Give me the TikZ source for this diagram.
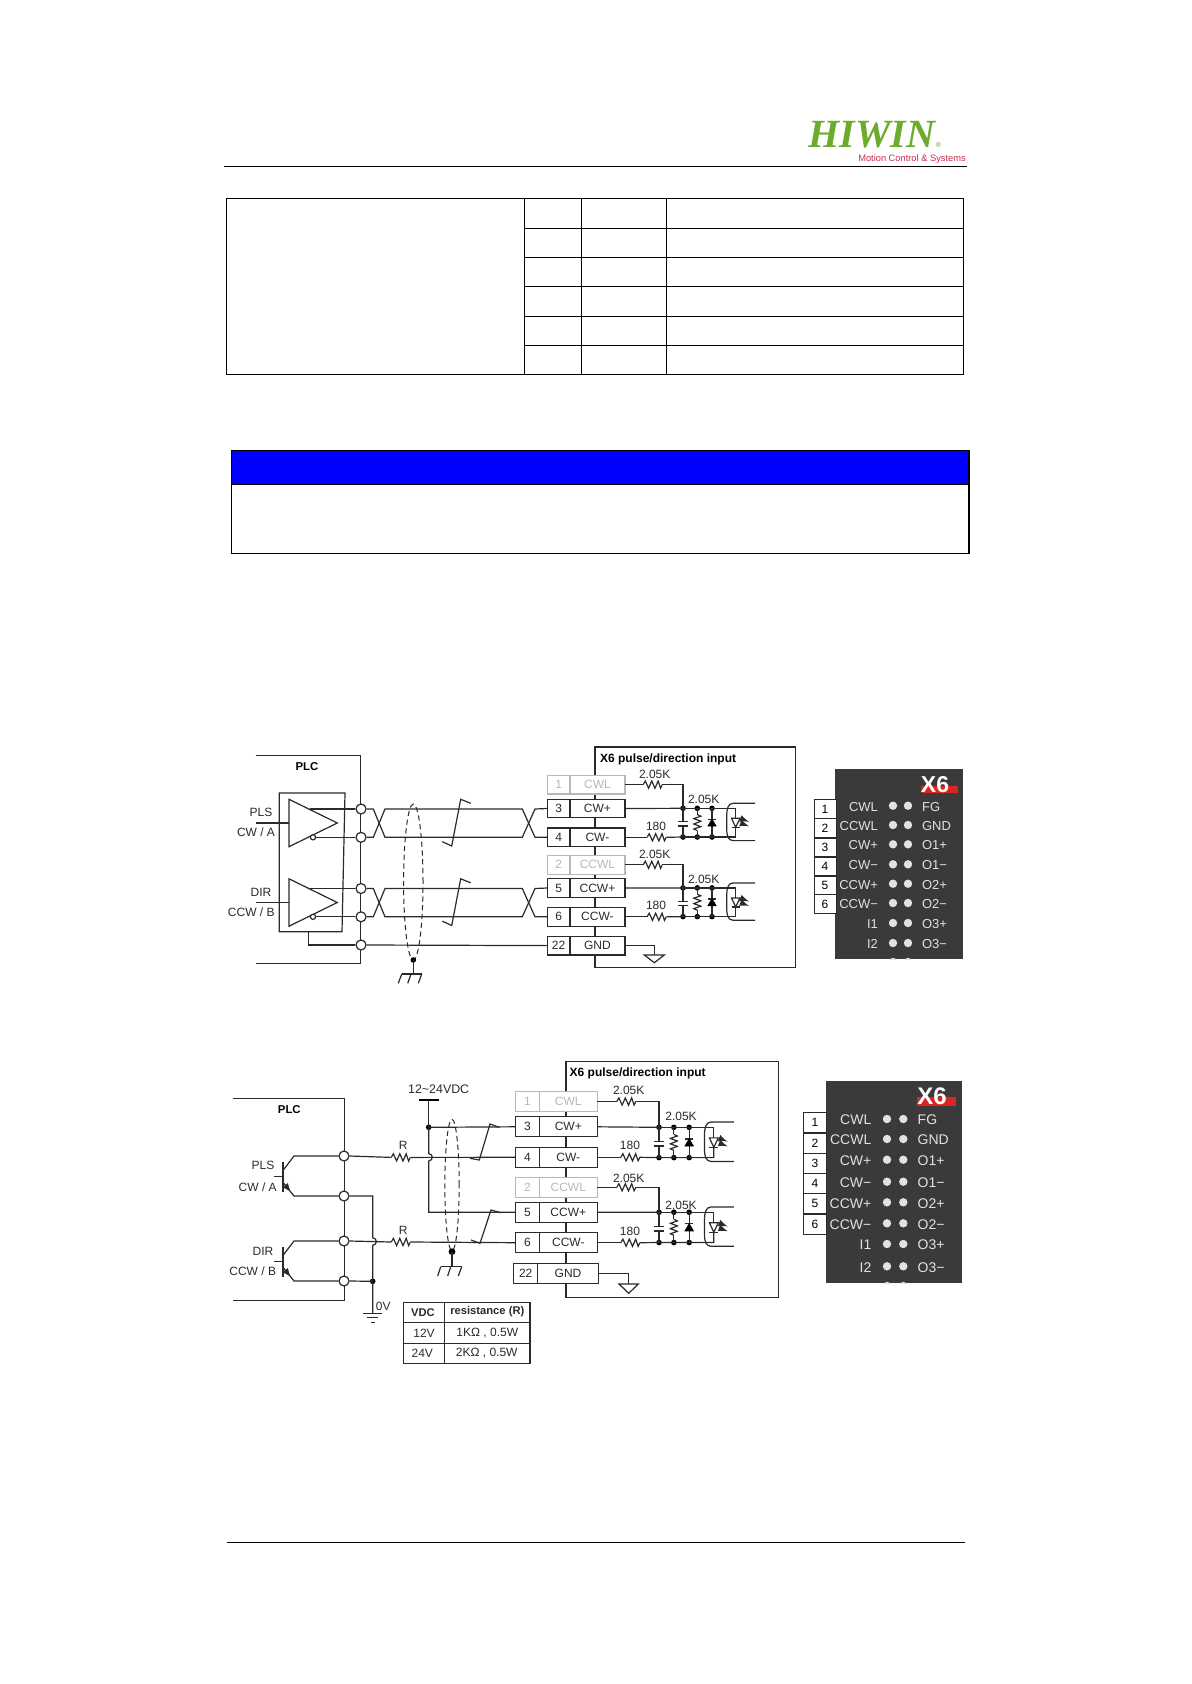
\documentclass[tikz,border=0pt]{standalone}
\usepackage{fontspec}
\setmainfont{Liberation Sans}
\newfontfamily\logofont{Liberation Serif}
\usetikzlibrary{arrows,calc,positioning,shapes.geometric}
\definecolor{wirecol}{HTML}{2A2A2A}
\definecolor{offcol}{HTML}{B8B8B8}
\definecolor{panelcol}{HTML}{3B3939}
\definecolor{panlabcol}{HTML}{E2E2E2}
\definecolor{panred}{HTML}{DC2522}
\definecolor{logogreen}{HTML}{6CAB2C}
\definecolor{logored}{HTML}{C62A4C}
\newcommand{\smf}{\fontsize{6}{7}\selectfont}
\tikzset{
  wire/.style={line width=.6pt,draw=wirecol},
  rule/.style={line width=.65pt,draw=black},
  term/.style={circle,draw=wirecol,fill=white,line width=.6pt,minimum size=5pt,inner sep=0},
  jn/.style={circle,fill=black,minimum size=2.8pt,inner sep=0},
  pincell/.style={rectangle,draw=wirecol,fill=white,line width=.6pt,inner sep=0,outer sep=0,minimum height=9.3pt,text=wirecol},
  pinoff/.style={pincell,draw=offcol,text=offcol},
  resh/.style={inner sep=0,outer sep=0,minimum width=9.6pt,minimum height=4.6pt,
    path picture={\draw[wire,shift={(path picture bounding box.center)}] (-4.8pt,0) -- (-3.7pt,1.8pt) -- (-2.1pt,-1.8pt) -- (-.5pt,1.8pt) -- (1.1pt,-1.8pt) -- (2.7pt,1.8pt) -- (3.9pt,-1.8pt) -- (4.8pt,0);}},
  resv/.style={inner sep=0,outer sep=0,minimum width=4.6pt,minimum height=8pt,
    path picture={\draw[wire,shift={(path picture bounding box.center)}] (0,4pt) -- (1.8pt,3.2pt) -- (-1.8pt,2pt) -- (1.8pt,.7pt) -- (-1.8pt,-.7pt) -- (1.8pt,-2pt) -- (-1.8pt,-3.2pt) -- (0,-4pt);}},
  shield/.style={ellipse,draw=wirecol,dash pattern=on 2.6pt off 1.8pt,line width=.5pt,inner sep=0},
  panlab/.style={text=panlabcol,inner sep=0},
  pandot/.style={circle,fill=panlabcol,minimum size=4.2pt,inner sep=0},
  pannum/.style={rectangle,draw=wirecol,fill=white,line width=.5pt,inner sep=0,text=black},
  tabcell/.style={inner sep=0,text=wirecol}
}
% one optocoupler input: origin on the left dot of the upper wire
\newcommand{\optonet}[5]{
  \begin{scope}[shift={(#1,#2)},xscale=#3,yscale=#4]
    \node[jn] (#5t) at (0,0) {};
    \node[jn] (#5b) at (0,28.7) {};
    \node[jn] (#5rt) at (14.3,0) {};
    \node[jn] (#5rb) at (14.3,28.7) {};
    \node[jn] (#5dt) at (29,0) {};
    \node[jn] (#5db) at (29,28.7) {};
    \node[resv] (#5rv) at (14.3,14.3) {};
    \draw[wire] (#5t.center) -- (0,13.3);
    \draw[wire] (-4.7,13.3) -- (4.7,13.3);
    \draw[wire] (-4.7,17.7) -- (4.7,17.7);
    \draw[wire] (0,17.7) -- (#5b.center);
    \draw[wire] (#5rt.center) -- (#5rv.north);
    \draw[wire] (#5rv.south) -- (#5rb.center);
    \draw[wire] (#5dt.center) -- (#5db.center);
    \draw[wire] (25,11) -- (33,11);
    \draw[fill=black,draw=black] (25,17.7) -- (33,17.7) -- (29,11) -- cycle;
    \draw[wire] (#5t.center) -- (52.7,0) -- (52.7,10);
    \draw[wire] (48.5,10) -- (57,10) -- (52.7,19) -- cycle;
    \draw[wire] (48.5,19) -- (57,19);
    \draw[wire] (52.7,19) -- (52.7,28.7) -- (#5b.center);
    \draw[wire,-latex] (59.5,11) -- (66,13.5);
    \draw[wire,-latex] (59.5,15.5) -- (66,18);
    \draw[wire] (72,-5) -- (50,-5) .. controls (45,-5) and (43.7,1) .. (43.7,7) -- (43.7,21) .. controls (43.7,27) and (45,32.3) .. (50,32.3) -- (72,32.3);
  \end{scope}
}
\begin{document}
\begin{tikzpicture}[x=.5pt,y=-.5pt,every node/.style={font=\smf}]
\useasboundingbox (0,0) rectangle (1191,1684);
% page head
\node[anchor=center,text=logogreen,font=\logofont\bfseries\itshape\fontsize{20}{20}\selectfont,inner sep=0] (logo) at (872,135) {HIWIN};
\node[text=logogreen!70!gray,font=\fontsize{3.6}{4}\selectfont,inner sep=0] (logor) at (938.5,145.5) {®};
\node[text=logored,font=\fontsize{4.65}{5}\selectfont,inner sep=0] (logosub) at (912,159.5) {Motion Control \& Systems};
\draw[rule] (224,166.3) -- (966.7,166.3);
\draw[rule] (227,1542.3) -- (965,1542.3);
% empty table
\draw[rule] (226.3,198.3) rectangle (963.7,374.3);
\foreach \xx in {524.6,581.6,666.5}
  \draw[rule] (\xx,198.3) -- (\xx,374.3);
\foreach \yy in {228.3,257.3,286.3,316.3,345.3}
  \draw[rule] (525,\yy) -- (963.7,\yy);
% note box
\draw[rule,fill=blue] (231.3,450.3) rectangle (969,484.3);
\draw[rule] (231.3,484.3) rectangle (969,553.3);

% ---- first circuit
\draw[wire] (595,747) rectangle (795.3,967.7);
\node[font=\fontsize{6}{7}\selectfont\bfseries,anchor=west,inner sep=0] (titlea) at (599.7,759.3) {X6 pulse/direction input};
\foreach \num/\sig/\yy/\stl in {1/CWL/784.6/pinoff,3/CW+/808.5/pincell,4/CW-/837.3/pincell,2/CCWL/864.8/pinoff,5/CCW+/888/pincell,6/CCW-/916.8/pincell,22/GND/945.6/pincell}{
  \node[\stl,minimum width=11.35pt] (a\num) at (558.6,\yy) {\num};
  \node[\stl,minimum width=27.5pt,right=0pt of a\num] (as\num) {\sig};
}
\draw[wire] (255.7,755.7) -- (360.7,755.7) -- (360.7,963.7) -- (255.7,963.7);
\node[font=\fontsize{5.7}{7}\selectfont\bfseries,inner sep=0] (plca) at (307,767) {PLC};
\draw[wire] (279.3,793) -- (345,793) -- (342,931.7) -- (279.3,931.7) -- cycle;
\node[inner sep=0,text=wirecol] at (261,812.7) {PLS};
\node[inner sep=0,text=wirecol] at (256,832.7) {CW / A};
\node[inner sep=0,text=wirecol] at (261,892.3) {DIR};
\node[inner sep=0,text=wirecol] at (251.3,912.3) {CCW / B};
\foreach \dy/\pp/\pn in {0/3/4,79.5/5/6}{
  \draw[wire] (289,799.3+\dy) -- (337.3,823+\dy) -- (289,846.7+\dy) -- cycle;
  \draw[wire] (255.7,823+\dy) -- (289,823+\dy);
  \node[term] (ta\pp) at (361,809+\dy) {};
  \node[term] (ta\pn) at (361,837.3+\dy) {};
  \node[term,minimum size=2.6pt] (bub\pn) at (313,837.3+\dy) {};
  \draw[wire] (310,809+\dy) -- (ta\pp.west);
  \draw[wire] (bub\pn.east) -- (ta\pn.west);
  \draw[wire] (ta\pp.east) -- (373.3,809+\dy) -- (385,837.3+\dy) -- (522.3,837.3+\dy) -- (535,809+\dy) -- (a\pp.west);
  \draw[wire] (ta\pn.east) -- (373.3,837.3+\dy) -- (385,809+\dy) -- (522.3,809+\dy) -- (535,837.3+\dy) -- (a\pn.west);
  \draw[wire] (442.3,841.7+\dy) -- (451.7,846+\dy) -- (460.7,799.3+\dy) -- (470.7,803.3+\dy);
}
\node[term] (ta22) at (361,945) {};
\draw[wire] (308.7,931.7) |- (ta22.west);
\draw[wire] (ta22.east) -- (a22.west);
\node[shield,minimum width=9.7pt,minimum height=78pt] (shielda) at (413.3,882) {};
\node[jn] (shdota) at (413.3,960) {};
\coordinate (gnda) at (413.3,974);
\draw[wire] (shdota.center) -- (gnda);
\draw[wire] (401.7,974) -- (422,974);
\draw[wire] (398.3,983.3) -- (401.7,974);
\draw[wire] (407.7,983.3) -- (411,974);
\draw[wire] (418.3,983.3) -- (421.7,974);
% drive side
\optonet{683}{808.3}{1}{1}{oa}
\optonet{683}{887.9}{1}{1}{ob}
\draw[wire] (as3.east) -- (oat.center);
\draw[wire] (as5.east) -- (obt.center);
\foreach \opto/\rup/\low/\yl/\ylo in {oa/1/4/774.3/826,ob/2/6/854.7/905.5}{
  \node[resh] (rt\opto) at ($(as\rup.east)+(27.8,0)$) {};
  \node[resh] (rb\opto) at ($(as\low.east)+(31.7,0)$) {};
  \draw[wire] (as\rup.east) -- (rt\opto.west);
  \draw[wire] (rt\opto.east) -| (\opto t.center);
  \draw[wire] (as\low.east) -- (rb\opto.west);
  \draw[wire] (rb\opto.east) -- (\opto b.center);
  \node[inner sep=0,text=wirecol] at (654.7,\yl) {2.05K};
  \node[inner sep=0,text=wirecol] at (656,\ylo) {180};
}
\node[inner sep=0,text=wirecol] at (703.7,799.3) {2.05K};
\node[inner sep=0,text=wirecol] at (703.7,879) {2.05K};
\coordinate (gndb) at (654.3,955);
\draw[wire] (as22.east) -| (gndb);
\draw[wire] (644.3,955) -- (664.3,955) -- (654.3,962.7) -- cycle;
% panel
\fill[panelcol] (835,769.3) rectangle (962.7,959.3);
\fill[panred] (921,785.7) rectangle (958.3,793.3);
\node[font=\fontsize{11.5}{12}\selectfont\bfseries,text=white,inner sep=0] (xa) at (935,785) {X6};
\foreach \i/\yy in {1/809.3,2/828.3,3/847.5,4/866.5,5/885.5,6/904.2}
  \node[pannum,minimum width=11pt,minimum height=9.4pt] (na\i) at (825,\yy) {\i};
\foreach \la/\ra/\yy in {CWL/FG/806.7,CCWL/GND/826,CW+/O1+/845.3,CW−/O1−/865.3,CCW+/O2+/884.7,CCW−/O2−/904,I1/O3+/924,I2/O3−/944}{
  \node[panlab,font=\fontsize{6.5}{7}\selectfont,anchor=east] at (878.3,\yy) {\la};
  \node[panlab,font=\fontsize{6.5}{7}\selectfont,anchor=west] at (921.7,\yy) {\ra};
  \node[pandot] at (893,\yy-1) {};
  \node[pandot] at (908,\yy-1) {};
}
\begin{scope}
  \clip (835,769.3) rectangle (962.7,959.3);
  \node[pandot] at (893,962) {};
  \node[pandot] at (908,962) {};
\end{scope}

% ---- second circuit
\draw[wire] (566,1061.3) rectangle (778.3,1297.3);
\node[font=\fontsize{6}{7}\selectfont\bfseries,anchor=west,inner sep=0] (titleb) at (569.3,1073.7) {X6 pulse/direction input};
\foreach \num/\sig/\yy/\stl in {1/CWL/1101.5/pinoff,3/CW+/1126.8/pincell,4/CW-/1157.3/pincell,2/CCWL/1187.3/pinoff,5/CCW+/1212.3/pincell,6/CCW-/1242.7/pincell}{
  \node[\stl,minimum width=11.8pt,minimum height=10pt] (b\num) at (527.5,\yy) {\num};
  \node[\stl,minimum width=29pt,minimum height=10pt,right=0pt of b\num] (bs\num) {\sig};
}
\node[pincell,minimum width=12pt,minimum height=10.2pt] (b22) at (525.7,1273.5) {22};
\node[pincell,minimum width=30.3pt,minimum height=10.2pt,right=0pt of b22] (bs22) {GND};
\draw[wire] (232.7,1098.3) -- (344.7,1098.3) -- (344.7,1300.6) -- (232.7,1300.6);
\node[font=\fontsize{5.7}{7}\selectfont\bfseries,inner sep=0] (plcb) at (289.3,1110) {PLC};
\node[inner sep=0,text=wirecol] at (263,1165.7) {PLS};
\node[inner sep=0,text=wirecol] at (257.7,1186.7) {CW / A};
\node[inner sep=0,text=wirecol] at (263,1251.7) {DIR};
\node[inner sep=0,text=wirecol] at (252.7,1271) {CCW / B};
\foreach \dy/\tc/\te in {0/1/2,85/3/4}{
  \node[term] (tb\tc) at (344,1156+\dy) {};
  \node[term] (tb\te) at (344,1196+\dy) {};
  \draw[line width=1pt,draw=wirecol] (282.7,1161.7+\dy) -- (282.7,1191.7+\dy);
  \draw[wire] (274,1176.3+\dy) -- (282.7,1176.3+\dy);
  \draw[wire] (283.3,1170+\dy) -- (294,1156+\dy) -- (tb\tc.west);
  \draw[wire,-latex] (283.3,1182.7+\dy) -- (291,1192.3+\dy);
  \draw[wire] (290,1191+\dy) -- (294,1196+\dy) -- (tb\te.west);
}
\node[resh] (rra) at (400.8,1157.4) {};
\node[resh] (rrb) at (400.8,1242) {};
\node[inner sep=0,text=wirecol] at (403.3,1145.3) {R};
\node[inner sep=0,text=wirecol] at (403.3,1230) {R};
\draw[wire] (tb1.east) -- (rra.west);
\draw[wire] (rra.east) -- (b4.west);
\draw[wire] (tb3.east) -- (rrb.west);
\draw[wire] (rrb.east) -- (b6.west);
% supply and 0V wires with their jumps
\node[inner sep=0,text=wirecol,font=\fontsize{6.2}{7}\selectfont] (vdc) at (438.7,1089.3) {12\textasciitilde 24VDC};
\draw[line width=1pt,draw=black] (419.3,1100) -- (439.3,1100);
\node[jn] (jvdc) at (428.7,1127.3) {};
\coordinate (vdcbar) at (428.7,1100);
\draw[wire] (vdcbar) -- (jvdc.center);
\draw[wire] (jvdc.center) -- (b3.west);
\draw[wire] (jvdc.center) -- (428.7,1153.6) .. controls (433.5,1154) and (433.5,1160.5) .. (428.7,1161) |- (b5.west);
\node[jn] (jzero) at (372.7,1281.3) {};
\draw[wire] (tb4.east) -- (jzero.center);
\coordinate (zero) at (372.7,1313.3);
\draw[wire] (tb2.east) -| (372.7,1237.7) .. controls (377.5,1238) and (377.5,1245) .. (372.7,1245.4) -- (jzero.center) -- (zero);
\draw[wire] (363.3,1313.3) -- (381.7,1313.3);
\draw[wire] (366.7,1317.3) -- (378.3,1317.3);
\draw[wire] (370.7,1322.3) -- (375,1322.3);
\node[inner sep=0,text=wirecol] at (383.3,1306.7) {0V};
\draw[wire] (470,1158.3) -- (479.3,1160) -- (490,1124) -- (499.3,1127.3);
\draw[wire] (471,1240) -- (480,1243.3) -- (491,1210) -- (500.7,1212.7);
\node[shield,minimum width=7.2pt,minimum height=65.7pt] (shieldb) at (452,1185) {};
\node[jn,minimum size=3.4pt] (shdotb) at (452,1251.7) {};
\coordinate (gndc) at (452,1266.7);
\draw[wire] (shdotb.center) -- (gndc);
\draw[wire] (440.7,1266.7) -- (461.7,1266.7);
\draw[wire] (437.7,1276) -- (440.7,1266.7);
\draw[wire] (447.7,1276) -- (450.7,1266.7);
\draw[wire] (458.3,1276) -- (461.7,1266.7);
% resistance table
\draw[wire] (403.3,1302.3) rectangle (530,1363.7);
\draw[wire] (444.3,1302.3) -- (444.3,1363.7);
\draw[wire] (403.3,1322.7) -- (530,1322.7);
\draw[wire] (403.3,1343.3) -- (530,1343.3);
\node[tabcell,font=\fontsize{5.6}{7}\selectfont\bfseries] at (423,1313) {VDC};
\node[tabcell,font=\fontsize{5.6}{7}\selectfont\bfseries] at (487.3,1311.7) {resistance (R)};
\node[tabcell] at (424,1333.3) {12V};
\node[tabcell] at (487.3,1333.3) {1KΩ , 0.5W};
\node[tabcell] at (422.3,1353.3) {24V};
\node[tabcell] at (486.7,1353.3) {2KΩ , 0.5W};
% drive side
\optonet{659}{1127.3}{1.04}{1.056}{oc}
\optonet{659}{1212.2}{1.04}{1.056}{od}
\draw[wire] (bs3.east) -- (oct.center);
\draw[wire] (bs5.east) -- (odt.center);
\foreach \opto/\rup/\low/\yl/\ylo in {oc/1/4/1090.7/1145.3,od/2/6/1178.7/1231.3}{
  \node[resh] (rt\opto) at ($(bs\rup.east)+(29,0)$) {};
  \node[resh] (rb\opto) at ($(bs\low.east)+(33,0)$) {};
  \draw[wire] (bs\rup.east) -- (rt\opto.west);
  \draw[wire] (rt\opto.east) -| (\opto t.center);
  \draw[wire] (bs\low.east) -- (rb\opto.west);
  \draw[wire] (rb\opto.east) -- (\opto b.center);
  \node[inner sep=0,text=wirecol] at (628.7,\yl) {2.05K};
  \node[inner sep=0,text=wirecol] at (630,\ylo) {180};
}
\node[inner sep=0,text=wirecol] at (681,1116.7) {2.05K};
\node[inner sep=0,text=wirecol] at (681,1205) {2.05K};
\coordinate (gndd) at (628.5,1284);
\draw[wire] (bs22.east) -| (gndd);
\draw[wire] (619,1284) -- (638.3,1284) -- (628.7,1293.3) -- cycle;
% panel
\fill[panelcol] (826,1080.7) rectangle (962,1283.3);
\fill[panred] (917.3,1096.7) rectangle (956,1106);
\node[font=\fontsize{12}{12}\selectfont\bfseries,text=white,inner sep=0] (xb) at (932,1096) {X6};
\foreach \i/\yy in {1/1122.3,2/1143.2,3/1163.5,4/1183.5,5/1203.7,6/1224.2}
  \node[pannum,minimum width=11.7pt,minimum height=10pt] (nb\i) at (815,\yy) {\i};
\foreach \la/\ra/\yy in {CWL/FG/1120,CCWL/GND/1140,CW+/O1+/1160.7,CW−/O1−/1182.7,CCW+/O2+/1203.3,CCW−/O2−/1224.3,I1/O3+/1245,I2/O3−/1267.3}{
  \node[panlab,font=\fontsize{7}{8}\selectfont,anchor=east] at (871.7,\yy) {\la};
  \node[panlab,font=\fontsize{7}{8}\selectfont,anchor=west] at (917.3,\yy) {\ra};
  \node[pandot] at (887,\yy-1) {};
  \node[pandot] at (903.3,\yy-1) {};
}
\begin{scope}
  \clip (826,1080.7) rectangle (962,1283.3);
  \node[pandot] at (887,1286) {};
  \node[pandot] at (903.3,1286) {};
\end{scope}
\end{tikzpicture}
\end{document}
